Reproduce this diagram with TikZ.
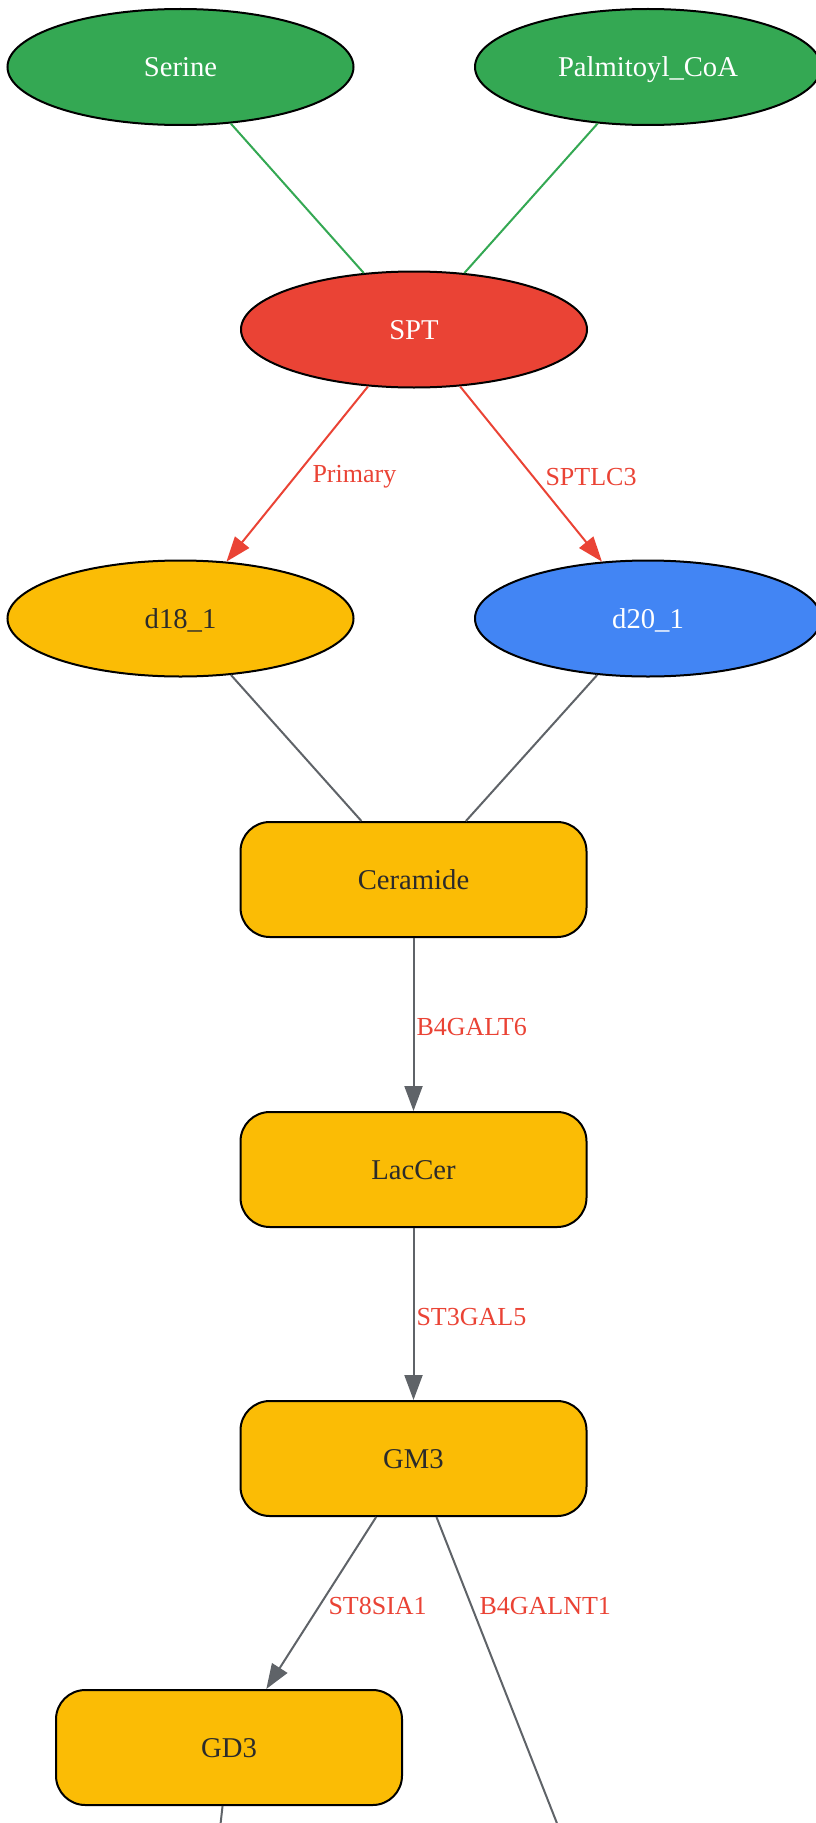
\documentclass[tikz,border=0pt]{standalone}
\usepackage{fontspec}
\setmainfont{Liberation Serif}
\usetikzlibrary{shapes.geometric,arrows.meta}

\definecolor{gGreen}{HTML}{34A853}
\definecolor{gRed}{HTML}{EA4335}
\definecolor{gYellow}{HTML}{FBBC05}
\definecolor{gBlue}{HTML}{4285F4}
\definecolor{gGray}{HTML}{5F6368}
\definecolor{gText}{HTML}{2B2B2B}

\tikzset{every picture/.style={line width=0.75pt}}
\tikzset{
  metab/.style={ellipse, draw=black, line width=1.5pt, minimum width=259.5pt, minimum height=87pt, inner sep=0pt, text height=14.6pt, text depth=0pt, font=\fontsize{21.5}{25}\selectfont},
  lipid/.style={rectangle, rounded corners=22pt, draw=black, line width=1.5pt, fill=gYellow, text=gText, minimum width=259.5pt, minimum height=86.25pt, inner sep=0pt, text height=14.6pt, text depth=0pt, font=\fontsize{21.5}{25}\selectfont},
  enzlabel/.style={anchor=west, inner sep=0.75pt, text=gRed, font=\fontsize{19.5}{23}\selectfont},
  link/.style={line width=1.5pt},
  conv/.style={line width=1.5pt, -{Triangle[length=18.75pt,width=13.5pt]}},
}

\begin{document}
\begin{tikzpicture}[x=0.75pt,y=0.75pt,yscale=-1,xscale=1]
\useasboundingbox (0,0) rectangle (816,1823);
\clip (0,0) rectangle (816,1823);

%Shape: Ellipse [Serine]
\node [metab, fill=gGreen, text=white] (serine) at (180.5,67) {Serine};
%Shape: Ellipse [Palmitoyl_CoA]
\node [metab, fill=gGreen, text=white] (palm) at (648,67) {Palmitoyl\_CoA};
%Shape: Ellipse [SPT]
\node [metab, fill=gRed, text=white] (spt) at (414,329.5) {SPT};
%Shape: Ellipse [d18_1]
\node [metab, fill=gYellow, text=gText] (dA) at (180.5,618.5) {d18\_1};
%Shape: Ellipse [d20_1]
\node [metab, fill=gBlue, text=white] (dB) at (648,618.5) {d20\_1};
%Shape: Rectangle [Ceramide]
\node [lipid] (cer) at (413.5,879.5) {Ceramide};
%Shape: Rectangle [LacCer]
\node [lipid] (lac) at (413.5,1169.5) {LacCer};
%Shape: Rectangle [GM3]
\node [lipid] (gm3) at (413.5,1458.5) {GM3};
%Shape: Rectangle [GD3]
\node [lipid] (gd3) at (229,1747.5) {GD3};
% off the page
\coordinate (gm2) at (597,1925);
\coordinate (gdnext) at (216,1865);

%Straight Lines
\draw [link, gGreen] (serine) -- (spt);
\draw [link, gGreen] (palm) -- (spt);
%Straight Lines
\draw [conv, gRed] (spt) -- (dA);
\draw [conv, gRed] (spt) -- (dB);
%Straight Lines
\draw [link, gGray] (dA) -- (cer);
\draw [link, gGray] (dB) -- (cer);
%Straight Lines
\draw [conv, gGray] (cer) -- (lac);
\draw [conv, gGray] (lac) -- (gm3);
\draw [conv, gGray] (gm3) -- (gd3);
\draw [link, gGray] (gm3) -- (gm2);
\draw [link, gGray] (gd3) -- (gdnext);

% Text Node
\node [enzlabel] (lprim) at (311,477) {Primary};
% Text Node
\node [enzlabel] (lsptlc) at (544,477) {SPTLC3};
% Text Node
\node [enzlabel] (lgalt) at (415,1027) {B4GALT6};
% Text Node
\node [enzlabel] (lst3) at (415,1317) {ST3GAL5};
% Text Node
\node [enzlabel] (lst8) at (327,1606) {ST8SIA1};
% Text Node
\node [enzlabel] (lgalnt) at (478,1606) {B4GALNT1};

\end{tikzpicture}
\end{document}
